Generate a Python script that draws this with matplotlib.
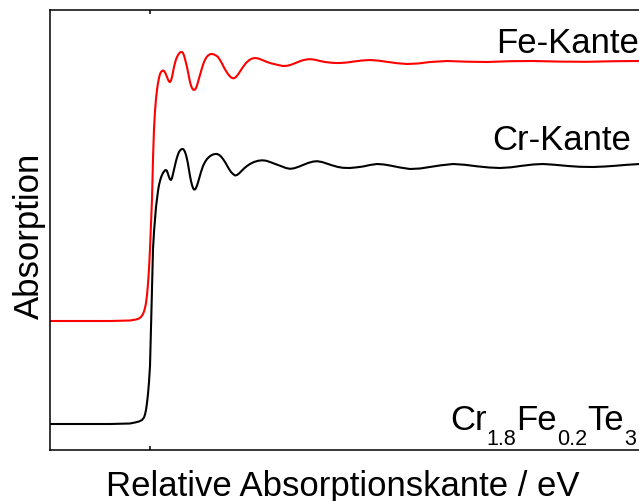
import matplotlib
matplotlib.use("Agg")
import matplotlib.pyplot as plt
from matplotlib.transforms import IdentityTransform
import numpy as np

plt.rcParams["font.family"] = ["Liberation Sans", "DejaVu Sans"]

# XANES spectra: energy relative to the absorption edge vs. absorption (a.u.)
fe_edge = [(-100, 129), (-70, 129), (-40, 129), (-20, 129.5), (-14, 130.5), (-11, 131.5),
           (-9, 133), (-7, 136), (-6, 138.5), (-5, 142), (-4, 147), (-3, 155), (-2, 166),
           (-1, 181), (0, 201), (1, 226), (2, 251), (3, 291), (4, 321), (5, 339),
           (6, 351), (7, 360), (8, 367), (9, 372), (10, 376), (11, 378), (12, 379),
           (13, 379.5), (14, 379), (15, 377.5), (16, 375.5), (17, 373), (18, 370.5),
           (19, 368.5), (20, 368), (21, 369.5), (22, 373), (23, 378), (24, 383),
           (25, 387), (26, 390.5), (27, 393), (28, 395), (29, 396.5), (30, 397.5),
           (31, 398), (32, 398), (33, 397), (34, 394.5), (35, 391), (36, 387), (37, 383),
           (38, 378), (39, 373), (40, 368), (41, 364.5), (42, 362), (43, 360.5), (44, 360),
           (45, 360.5), (46, 362), (47, 364.5), (48, 368), (50, 375), (52, 382), (54, 388),
           (56, 392), (58, 394.5), (60, 395.8), (62, 396), (64, 395.5), (66, 394.5),
           (68, 393), (70, 390), (72, 386.5), (74, 382.5), (76, 379), (78, 376),
           (80, 373.5), (82, 372), (84, 371.7), (86, 373), (88, 375.5), (90, 378.5),
           (93, 383), (96, 387), (99, 389.8), (102, 391.4), (105, 392), (108, 391.6),
           (111, 390.5), (114, 389.2), (117, 388), (121, 386.7), (125, 385.7),
           (129, 384.8), (133, 384), (137, 384.2), (141, 385.2), (145, 386.8),
           (149, 388.4), (153, 389.8), (158, 390.8), (162, 390.7), (166, 390), (170, 389),
           (175, 388), (180, 387.4), (185, 387), (190, 387), (197, 387.5), (204, 388.5),
           (212, 389.5), (220, 390), (228, 389.4), (237, 388.2), (247, 386.8), (257, 386),
           (268, 386.5), (280, 388), (297, 389), (317, 388.3), (337, 388), (360, 388.8),
           (383, 389), (410, 388.4), (437, 388.2), (465, 388.8), (489, 389), (495, 389)]

cr_edge = [(-100, 26), (-70, 26), (-40, 26), (-20, 26.5), (-15, 27.5), (-11, 28.5),
           (-8, 30), (-6, 32.5), (-5, 35.5), (-4, 40), (-3, 47), (-2, 56), (-1, 68),
           (0, 84), (1, 121), (2, 161), (3, 201), (4, 218), (5, 231), (6, 243), (7, 251),
           (8, 259), (9, 265), (10, 269), (11, 272.5), (12, 275), (13, 277), (14, 278.5),
           (15, 279.7), (16, 280), (17, 279), (18, 276), (19, 273), (20, 270.7), (21, 270),
           (22, 272), (23, 276), (24, 280.5), (25, 284.5), (26, 289), (27, 292.5),
           (28, 295.5), (29, 298), (30, 299.5), (31, 300.5), (32, 301), (33, 301),
           (34, 300), (35, 298), (36, 295), (37, 291), (38, 286), (39, 280), (40, 274),
           (41, 269), (42, 265), (43, 262), (44, 260.5), (45, 260.5), (46, 262),
           (47, 264.5), (48, 267.5), (49, 271), (51, 278), (53, 284), (55, 288), (57, 291),
           (59, 293), (61, 294.5), (63, 295.5), (65, 296), (67, 296), (69, 295.2),
           (71, 293.5), (73, 291), (75, 288), (77, 284.5), (79, 281), (81, 278), (83, 276),
           (85, 274.5), (87, 275), (89, 276.5), (91, 278.5), (94, 281.5), (97, 284),
           (100, 286), (104, 288), (108, 289.2), (112, 289.7), (116, 289.3), (120, 288),
           (124, 286.5), (128, 285), (132, 283.5), (136, 282), (140, 281.2), (144, 281.7),
           (148, 283), (153, 285), (158, 287), (163, 288.4), (167, 288.8), (172, 288),
           (177, 286.4), (182, 284.7), (188, 283), (193, 282.2), (200, 282), (207, 282.7),
           (213, 283.5), (220, 285), (227, 286), (234, 285.5), (240, 284.5), (250, 282.5),
           (260, 281), (270, 281.5), (280, 283), (291, 284.7), (303, 286), (315, 285.2),
           (327, 283.7), (339, 282.5), (350, 282), (361, 282.7), (372, 284.2), (383, 285.5),
           (393, 286), (405, 285.2), (418, 284), (430, 283.2), (443, 283), (455, 283.5),
           (465, 284.2), (477, 285.2), (489, 286), (495, 286)]

edge_labels = ["Fe-Kante", "Cr-Kante"]
# sample formula as (text, is_subscript) pieces
sample_name = [("Cr", False), ("1.8", True), ("Fe", False), ("0.2", True),
               ("Te", False), ("3", True)]

fig = plt.figure(figsize=(6.39, 5.02), dpi=100)
ax = fig.add_axes([50 / 639, 51 / 502, 595 / 639, 440 / 502])

fe_x, fe_y = np.array(fe_edge).T
cr_x, cr_y = np.array(cr_edge).T
ax.plot(fe_x, fe_y, color="#ff0000", lw=1.5)
ax.plot(cr_x, cr_y, color="black", lw=1.5)

ax.set_xlim(-100, 495)
ax.set_ylim(0, 440)

for sp in ax.spines.values():
    sp.set_linewidth(1.1)

ax.set_xticks([0])
ax.set_yticks([])
ax.tick_params(axis="x", direction="in", length=3, width=1.1, top=True,
               labelbottom=False)

ax.text(489, 398, edge_labels[0], fontsize=25, ha="right", va="baseline")
ax.text(481, 301, edge_labels[1], fontsize=25, ha="right", va="baseline")

# formula with lowered, smaller subscripts, laid out piece by piece in pixels
renderer = fig.canvas.get_renderer()
px, py = ax.transData.transform((300, 21))
for piece, is_sub in sample_name:
    t = fig.text(px, py - (15 if is_sub else 0), piece, fontsize=15.5 if is_sub else 25,
                 ha="left", va="baseline", transform=IdentityTransform())
    px = t.get_window_extent(renderer).x1

fig.text(29 / 639, 1 - 236 / 502, "Absorption", fontsize=25, rotation=90,
         ha="center", va="center")
fig.text(343 / 639, 1 - 496 / 502, "Relative Absorptionskante / eV", fontsize=25,
         ha="center", va="baseline")

fig.savefig("out.png", dpi=100)
